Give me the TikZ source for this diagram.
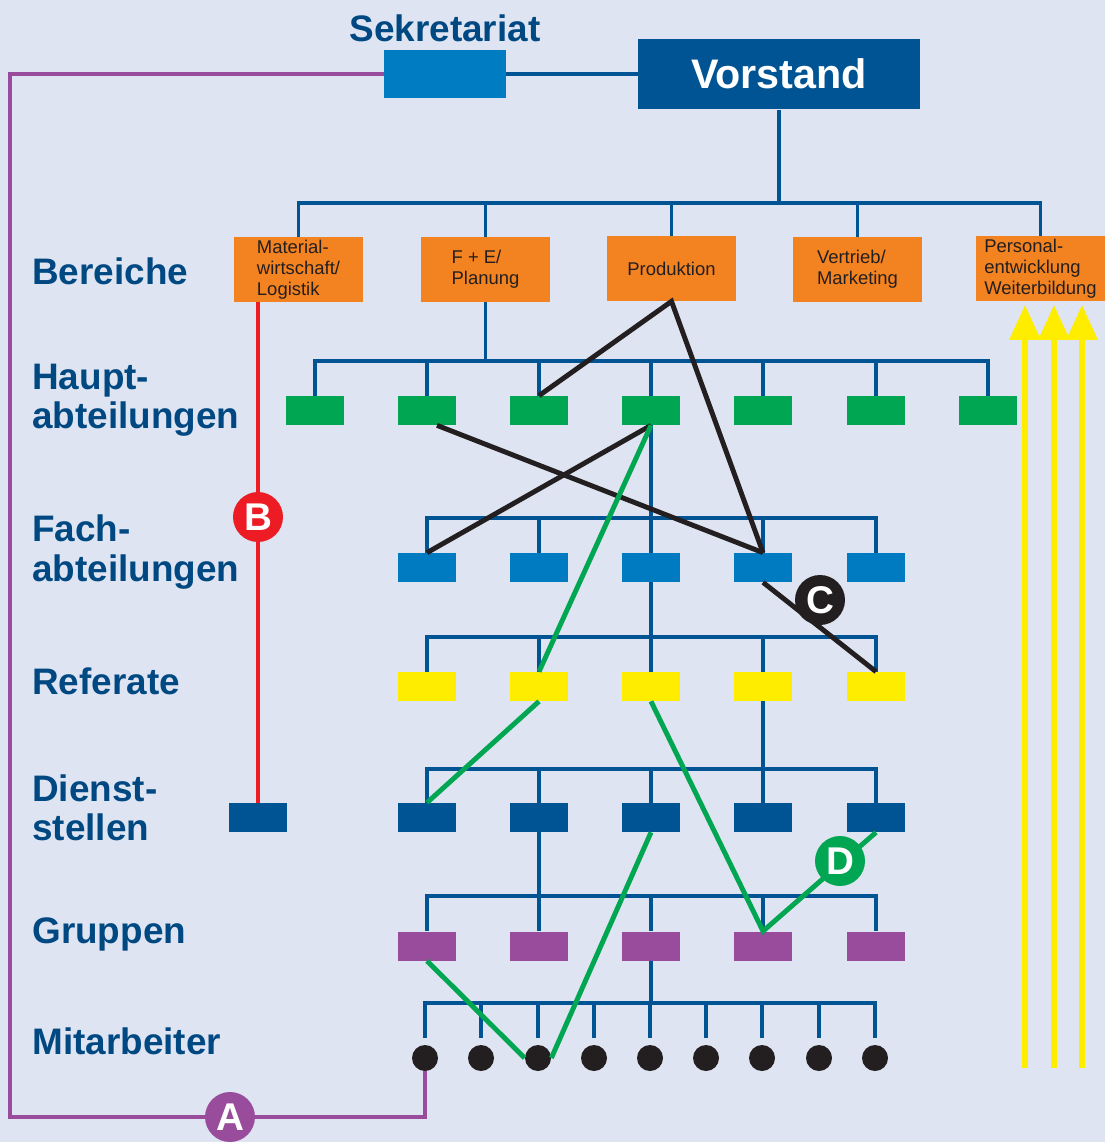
\documentclass[tikz,border=0pt]{standalone}
\usepackage{fontspec}
\setmainfont{Liberation Sans}
\usetikzlibrary{arrows.meta,calc}
\definecolor{bg}{RGB}{222,228,241}
\definecolor{navy}{RGB}{0,84,147}
\definecolor{labelblue}{RGB}{0,72,130}
\definecolor{sekblue}{RGB}{0,124,194}
\definecolor{orng}{RGB}{243,130,32}
\definecolor{grn}{RGB}{0,166,81}
\definecolor{fachblue}{RGB}{0,122,193}
\definecolor{yel}{RGB}{255,237,0}
\definecolor{purp}{RGB}{152,76,155}
\definecolor{redline}{RGB}{237,28,36}
\definecolor{blk}{RGB}{35,31,32}

\begin{document}
\begin{tikzpicture}[x=0.02cm,y=-0.02cm,
  rowlabel/.style={anchor=west,align=left,text=labelblue,font=\fontsize{21}{22.5}\selectfont\bfseries,inner sep=0pt},
  bereich/.style={fill=orng,minimum width=2.58cm,minimum height=1.3cm,align=left,font=\fontsize{10.5}{12}\selectfont,text=blk,inner sep=0pt},
  orgbox/.style={fill=#1,minimum width=1.16cm,minimum height=0.58cm,inner sep=0pt},
  person/.style={circle,fill=blk,minimum size=0.52cm,inner sep=0pt},
  bus/.style={draw=navy,line width=1.75pt},
  tie/.style={draw=#1,line width=2.8pt},
  tag/.style={circle,fill=#1,minimum size=1cm,inner sep=0pt,text=white,font=\fontsize{22}{22}\selectfont\bfseries},
  uparrow/.style={draw=yel,line width=3.4pt,shorten >=2pt,-{Triangle[width=0.6cm,length=0.7cm]}}
]
  \useasboundingbox (0,0) rectangle (1105,1142);
  \fill[bg] (0,0) rectangle (1105,1142);

  % top
  \node[text=labelblue,font=\fontsize{21}{21}\selectfont\bfseries] (sektitle) at (445,28) {Sekretariat};
  \node[fill=sekblue,minimum width=2.44cm,minimum height=0.96cm] (sek) at (445,74) {};
  \node[fill=navy,minimum width=5.64cm,minimum height=1.42cm,text=white,font=\fontsize{23.5}{23.5}\selectfont\bfseries] (vs) at (779,74) {Vorstand};

  % row labels
  \node[rowlabel] (lb) at (32,271) {Bereiche};
  \node[rowlabel] (lh) at (32,400) {Haupt-\\abteilungen};
  \node[rowlabel] (lf) at (32,552) {Fach-\\abteilungen};
  \node[rowlabel] (lr) at (32,681) {Referate};
  \node[rowlabel] (ld) at (32,808) {Dienst-\\stellen};
  \node[rowlabel] (lg) at (32,934) {Gruppen};
  \node[rowlabel] (lm) at (32,1041) {Mitarbeiter};

  % Bereiche
  \node[bereich] (b1) at (298.5,269.5) {Material-\\wirtschaft/\\Logistik};
  \node[bereich] (b2) at (485.5,269.5) {F + E/\\Planung};
  \node[bereich] (b3) at (671.5,268.5) {Produktion};
  \node[bereich] (b4) at (857.5,269.5) {Vertrieb/\\Marketing};
  \node[bereich] (b5) at (1040.5,268.5) {Personal-\\entwicklung\\Weiterbildung};

  % units
  \foreach \i/\x in {1/315,2/427,3/539,4/651,5/763,6/876,7/988}
    \node[orgbox=grn] (h\i) at (\x,410.5) {};
  \foreach \i/\x in {1/427,2/539,3/651,4/763,5/876} {
    \node[orgbox=fachblue] (f\i) at (\x,567.5) {};
    \node[orgbox=yel] (r\i) at (\x,686.5) {};
    \node[orgbox=navy] (d\i) at (\x,817.5) {};
    \node[orgbox=purp] (g\i) at (\x,946) {};
  }
  \node[orgbox=navy] (d0) at (258,817.5) {};
  \foreach \i/\x in {1/425,2/481,3/538,4/594,5/650,6/706,7/762,8/819,9/875}
    \node[person] (m\i) at (\x,1058) {};

  % bus lines
  \coordinate (busB) at (0,203);
  \coordinate (busH) at (0,361);
  \coordinate (busF) at (0,518);
  \coordinate (busR) at (0,637);
  \coordinate (busD) at (0,769);
  \coordinate (busG) at (0,896);
  \coordinate (busM) at (0,1003);
  \draw[bus] (sek.east) -- (vs.west);
  \draw[bus] (vs.south) -- (vs.south |- busB);
  \draw[bus] (b1.north) |- (b5.north |- busB) -- (b5.north);
  \foreach \i in {2,3,4} \draw[bus] (b\i.north) -- (b\i.north |- busB);
  \draw[bus] (b2.south) -- (b2.south |- busH);
  \draw[bus] (h1.north) |- (h7.north |- busH) -- (h7.north);
  \foreach \i in {2,...,6} \draw[bus] (h\i.north) -- (h\i.north |- busH);
  \draw[bus] (h4.south) -- (h4.south |- busF);
  \draw[bus] (f1.north) |- (f5.north |- busF) -- (f5.north);
  \draw[bus] (f3.south) -- (f3.south |- busR);
  \draw[bus] (r1.north) |- (r5.north |- busR) -- (r5.north);
  \draw[bus] (r4.south) -- (r4.south |- busD);
  \draw[bus] (d1.north) |- (d5.north |- busD) -- (d5.north);
  \draw[bus] (d2.south) -- (d2.south |- busG);
  \draw[bus] (g1.north) |- (g5.north |- busG) -- (g5.north);
  \foreach \i in {2,3,4} {
    \draw[bus] (f\i.north) -- (f\i.north |- busF);
    \draw[bus] (r\i.north) -- (r\i.north |- busR);
    \draw[bus] (d\i.north) -- (d\i.north |- busD);
    \draw[bus] (g\i.north) -- (g\i.north |- busG);
  }
  \draw[bus] (g3.south) -- (g3.south |- busM);
  \draw[bus,shorten <=4pt,shorten >=4pt] (m1.north) |- (m9.north |- busM) -- (m9.north);
  \foreach \i in {2,...,8} \draw[bus,shorten >=4pt] (m\i.north |- busM) -- (m\i.north);

  % A and B
  \coordinate (pl) at (10,1117);
  \draw[tie=purp,line width=2.6pt] (sek.west) -| (pl) -| (m1.south);
  \draw[tie=redline,line width=2.6pt] (d0.north |- b1.south) -- (d0.north);

  % black ties
  \draw[tie=blk] (h3.north) -- (b3.south) -- (f4.north);
  \draw[tie=blk] ($(h2.south)+(10,0)$) -- (f4.north);
  \draw[tie=blk] (h4.south) -- (f1.north);
  \draw[tie=blk] (f4.south) -- (r5.north);

  % green ties
  \draw[tie=grn] (h4.south) -- (r2.north);
  \draw[tie=grn] (r2.south) -- (d1.north);
  \draw[tie=grn] (r3.south) -- (g4.north) -- (d5.south);
  \draw[tie=grn] (g1.south) -- (m3.west);
  \draw[tie=grn] (m3.east) -- (d3.south);

  % yellow arrows
  \foreach \i/\x in {1/1025,2/1054,3/1082} {
    \coordinate (y\i) at (\x,1068);
    \draw[uparrow] (y\i) -- (y\i |- b5.south);
  }

  % tags
  \node[tag=purp] (ta) at (230,1117) {A};
  \node[tag=redline] (tb) at (258,517) {B};
  \node[tag=blk] (tc) at (820,600) {C};
  \node[tag=grn] (td) at (840,861) {D};
\end{tikzpicture}
\end{document}
